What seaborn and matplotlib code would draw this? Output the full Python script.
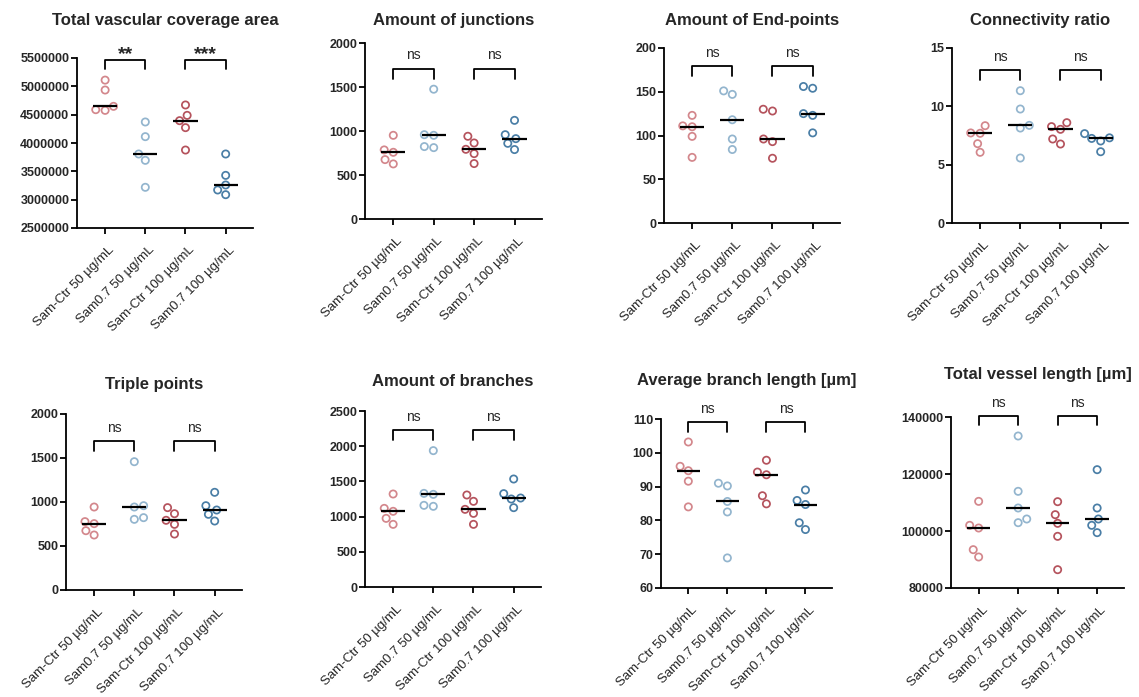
import numpy as np
import pandas as pd
import matplotlib
matplotlib.use("Agg")
import matplotlib.pyplot as plt
from matplotlib.transforms import ScaledTranslation
import seaborn as sns

# Treatment groups (x categories)
groups = ["Sam-Ctr 50 µg/mL", "Sam0.7 50 µg/mL", "Sam-Ctr 100 µg/mL", "Sam0.7 100 µg/mL"]

# Replicate measurements per group
coverage_area = [
    [5110000, 4935000, 4647000, 4576000, 4588000],
    [4371000, 4112000, 3806000, 3694000, 3218000],
    [4671000, 4488000, 4394000, 4271000, 3876000],
    [3806000, 3429000, 3259000, 3171000, 3088000],
]
junctions = [
    [951, 785, 758, 675, 626],
    [1475, 958, 951, 823, 811],
    [940, 864, 792, 743, 630],
    [1121, 958, 913, 860, 789],
]
end_points = [
    [123, 111, 110, 99, 75],
    [151, 147, 118, 96, 84],
    [130, 128, 96, 93, 74],
    [156, 154, 125, 123, 103],
]
connectivity = [
    [8.34, 7.72, 7.69, 6.80, 6.06],
    [11.34, 9.77, 8.37, 8.14, 5.57],
    [8.60, 8.26, 8.03, 7.20, 6.77],
    [7.66, 7.30, 7.25, 7.03, 6.11],
]
triple_points = [
    [943, 777, 754, 674, 625],
    [1458, 958, 943, 822, 803],
    [936, 867, 792, 746, 636],
    [1110, 958, 909, 860, 784],
]
branches = [
    [1321, 1117, 1075, 975, 890],
    [1937, 1330, 1316, 1160, 1146],
    [1307, 1217, 1103, 1046, 890],
    [1534, 1326, 1264, 1250, 1127],
]
avg_branch_length = [
    [103.2, 96.0, 94.7, 91.6, 84.0],
    [91.0, 90.2, 85.6, 82.5, 68.9],
    [97.8, 94.3, 93.5, 87.3, 84.9],
    [89.0, 85.9, 84.7, 79.3, 77.3],
]
vessel_length = [
    [110400, 101990, 101050, 93450, 90880],
    [133330, 113920, 108070, 104210, 102920],
    [110290, 105730, 102690, 98130, 86430],
    [121520, 108070, 104210, 101990, 99420],
]

titles = [
    "Total vascular coverage area", "Amount of junctions", "Amount of End-points",
    "Connectivity ratio", "Triple points", "Amount of branches",
    "Average branch length [µm]", "Total vessel length [µm]",
]
metrics = [coverage_area, junctions, end_points, connectivity,
           triple_points, branches, avg_branch_length, vessel_length]

# Pairwise comparison labels (50 µg/mL pair, 100 µg/mL pair)
sig_labels = [
    ["**", "***"], ["ns", "ns"], ["ns", "ns"], ["ns", "ns"],
    ["ns", "ns"], ["ns", "ns"], ["ns", "ns"], ["ns", "ns"],
]

# Axis ranges: (min, max, step)
y_ranges = [
    (2500000, 5500000, 500000), (0, 2000, 500), (0, 200, 50), (0, 15, 5),
    (0, 2000, 500), (0, 2500, 500), (60, 110, 10), (80000, 140000, 20000),
]
bracket_tops = [5470000, 1710, 179.5, 13.1, 1693, 2235, 109.1, 140470]

palette = ["#d3878c", "#93b5ce", "#b5535d", "#4a7ea6"]

# Panel placement in pixels: left, top, right, bottom
W, H = 1139, 697
panel_px = [
    (77, 58, 253, 228), (365, 43, 542, 219), (664, 48, 840, 223), (952, 48, 1128, 223),
    (66, 414, 242, 590), (365, 411, 541, 587), (661, 419, 832, 588), (951, 417, 1124, 588),
]
title_y_px = [20, 20, 20, 20, 385, 382, 380, 375]

sns.set_style("ticks")
plt.rcParams["font.family"] = ["Liberation Sans", "DejaVu Sans"]

fig = plt.figure(figsize=(W / 100, H / 100), dpi=100)
label_shift = ScaledTranslation(3 / 100, 0, fig.dpi_scale_trans)

for k in range(8):
    l, t, r, b = panel_px[k]
    ax = fig.add_axes([l / W, 1 - b / H, (r - l) / W, (b - t) / H])
    vals = metrics[k]
    df = pd.DataFrame({
        "group": np.repeat(groups, [len(v) for v in vals]),
        "value": np.concatenate([np.asarray(v, dtype=float) for v in vals]),
    })
    sns.swarmplot(data=df, x="group", y="value", hue="group", order=groups,
                  hue_order=groups, palette=palette, size=5.2, linewidth=1.25,
                  legend=False, ax=ax, zorder=3)
    # open circles: move fill colour to the outline
    for coll in ax.collections:
        fc = coll.get_facecolors()
        coll.set_edgecolors(fc)
        coll.set_facecolors("none")
        coll.set_linewidth(1.25)

    # median lines
    for i, v in enumerate(vals):
        ax.hlines(np.median(v), i - 0.3, i + 0.3, color="black", lw=1.6, zorder=5)

    ymin, ymax, step = y_ranges[k]
    ax.set_ylim(ymin, ymax)
    ax.set_yticks(np.arange(ymin, ymax + step / 2, step))
    ax.yaxis.set_major_formatter(matplotlib.ticker.FuncFormatter(lambda v, p: f"{v:.0f}"))
    ax.set_xlim(-0.7, 3.68)
    ax.set_xlabel("")
    ax.set_ylabel("")
    for s in ["top", "right"]:
        ax.spines[s].set_visible(False)
    for s in ["left", "bottom"]:
        ax.spines[s].set_linewidth(1.3)
        ax.spines[s].set_color("black")
    ax.tick_params(axis="both", direction="out", length=4, width=1.3, color="black")
    ax.tick_params(axis="y", labelsize=9, pad=1.5)
    for lab in ax.get_yticklabels():
        lab.set_fontweight("bold")
    ax.set_xticks(range(4))
    ax.set_xticklabels(groups, rotation=45, ha="right", va="top",
                       rotation_mode="anchor", fontsize=9.5)
    ax.tick_params(axis="x", pad=7.5)
    for lab in ax.get_xticklabels():
        lab.set_transform(lab.get_transform() + label_shift)

    # comparison brackets
    top = bracket_tops[k]
    arm = 0.057 * (ymax - ymin)
    for j, (x0, x1) in enumerate([(0, 1), (2, 3)]):
        ax.plot([x0, x0, x1, x1], [top - arm, top, top, top - arm],
                color="black", lw=1.3, clip_on=False, zorder=4)
        lab = sig_labels[k][j]
        if lab == "ns":
            ax.annotate(lab, xy=((x0 + x1) / 2, top), xytext=(0, 6.5),
                        textcoords="offset points", ha="center", va="baseline",
                        fontsize=10, annotation_clip=False)
        else:
            ax.annotate(lab, xy=((x0 + x1) / 2, top), xytext=(0, 0.8),
                        textcoords="offset points", ha="center", va="baseline",
                        fontsize=14, fontweight="bold", annotation_clip=False)

    fig.text((l + r) / 2 / W, 1 - title_y_px[k] / H, titles[k], ha="center",
             va="center", fontsize=12, fontweight="bold")

fig.savefig("out.png", dpi=100, facecolor="white")
